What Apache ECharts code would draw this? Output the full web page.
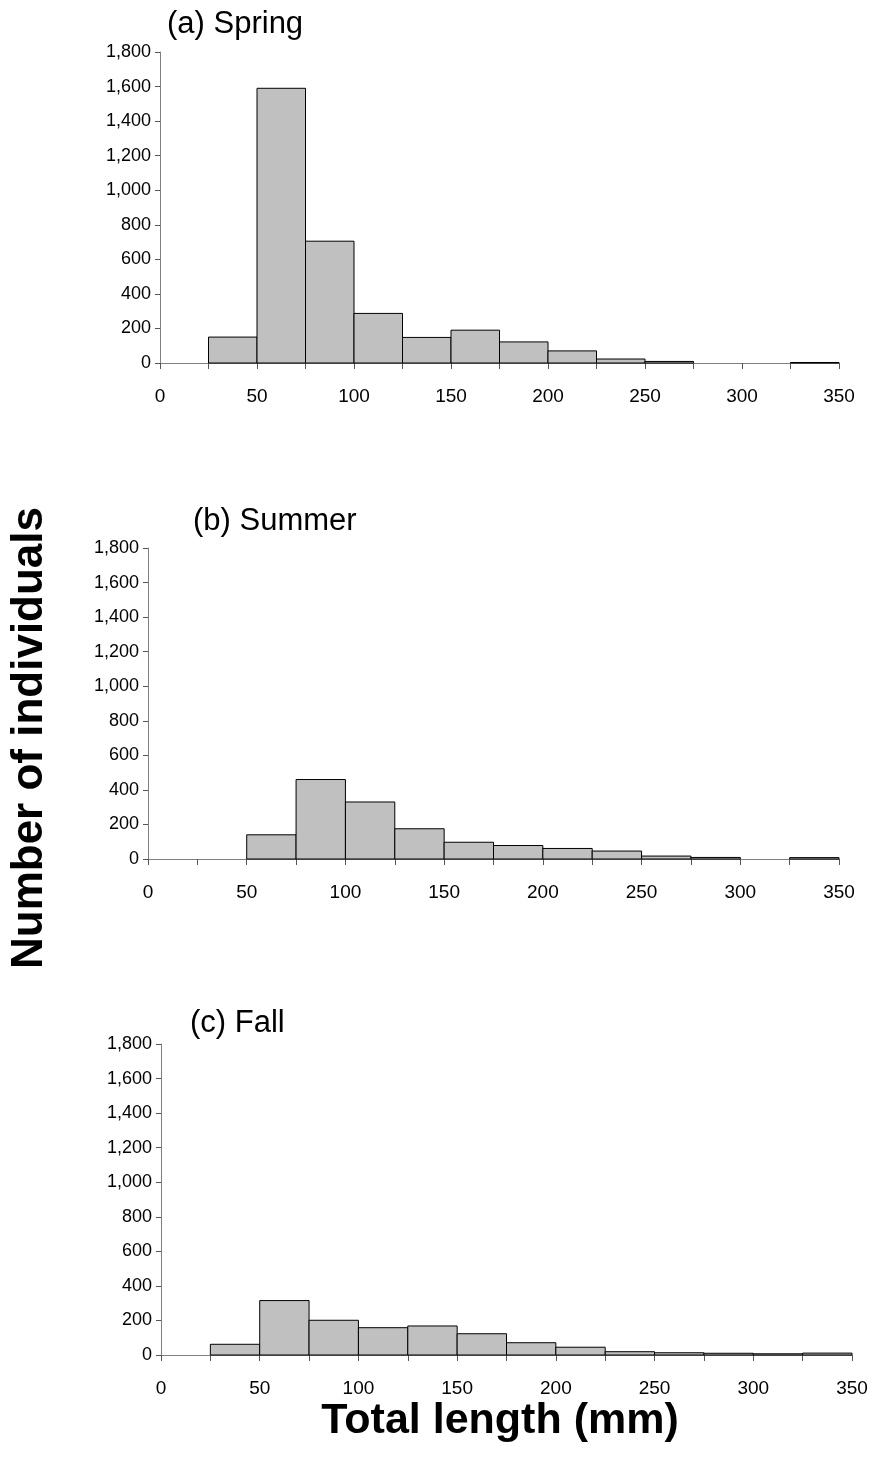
<!DOCTYPE html>
<html>
<head>
<meta charset="utf-8">
<script src="https://cdn.jsdelivr.net/npm/echarts@6/dist/echarts.min.js"></script>
<style>
    html, body { margin: 0; padding: 0; background: #fff; }
    #chart { width: 878px; height: 1469px; }
</style>
</head>
<body>
<div id="chart"></div>
<script>
// length bins (mm)
var binStarts = [0, 25, 50, 75, 100, 125, 150, 175, 200, 225, 250, 275, 300, 325];
var binEnds = [25, 50, 75, 100, 125, 150, 175, 200, 225, 250, 275, 300, 325, 350];

// number of individuals per bin
var springCounts = [0, 150, 1590, 705, 287, 148, 190, 122, 70, 23, 9, 0, 0, 3];
var summerCounts = [0, 0, 140, 460, 330, 175, 97, 78, 61, 46, 17, 9, 0, 8];
var fallCounts = [0, 62, 315, 201, 158, 168, 123, 71, 45, 19, 13, 10, 7, 11];

var panelTitles = ['(a) Spring', '(b) Summer', '(c) Fall'];
var yTicks = [0, 200, 400, 600, 800, 1000, 1200, 1400, 1600, 1800];
var xTicks = [0, 50, 100, 150, 200, 250, 300, 350];

var fontName = '"Liberation Sans", Arial, sans-serif';

function toBins(counts) {
    var out = [];
    for (var i = 0; i < counts.length; i++) {
        out.push([binStarts[i], binEnds[i], counts[i]]);
    }
    return out;
}

function renderBar(params, api) {
    var v = api.value(2);
    if (!v) {
        return null;
    }
    var p0 = api.coord([api.value(0), v]);
    var p1 = api.coord([api.value(1), 0]);
    return {
        type: 'rect',
        shape: { x: p0[0], y: p0[1], width: p1[0] - p0[0], height: p1[1] - p0[1] },
        style: { fill: '#c0c0c0', stroke: '#000', lineWidth: 1 }
    };
}

var grids = [
    { left: 160, right: 39, top: 52, height: 311 },
    { left: 148, right: 39, top: 548, height: 311 },
    { left: 161, right: 26, top: 1044, height: 311 }
];

var xAxes = [], yAxes = [], series = [], titles = [];
var allCounts = [springCounts, summerCounts, fallCounts];
var titleLeft = [162, 188, 185];
var titleTop = [4, 501, 1003];

for (var k = 0; k < 3; k++) {
    xAxes.push({
        type: 'value',
        gridIndex: k,
        min: 0,
        max: 350,
        interval: 25,
        splitLine: { show: false },
        axisLine: { onZero: false, lineStyle: { color: '#808080', width: 1 } },
        axisTick: { length: 6, lineStyle: { color: '#555' } },
        axisLabel: {
            margin: 24,
            color: '#000',
            fontSize: 19,
            fontFamily: fontName,
            formatter: function (v) {
                return xTicks.indexOf(v) >= 0 ? String(v) : '';
            }
        }
    });
    yAxes.push({
        type: 'value',
        gridIndex: k,
        min: 0,
        max: 1800,
        interval: 200,
        splitLine: { show: false },
        axisLine: { show: true, lineStyle: { color: '#808080', width: 1 } },
        axisTick: { show: true, length: 5, lineStyle: { color: '#555' } },
        axisLabel: {
            margin: 9,
            color: '#000',
            fontSize: 18,
            fontFamily: fontName,
            formatter: function (v) {
                return yTicks.indexOf(v) >= 0 ? v.toLocaleString('en-US') : '';
            }
        }
    });
    series.push({
        type: 'custom',
        xAxisIndex: k,
        yAxisIndex: k,
        renderItem: renderBar,
        encode: { x: [0, 1], y: 2 },
        data: toBins(allCounts[k]),
        silent: true
    });
    titles.push({
        text: panelTitles[k],
        left: titleLeft[k],
        top: titleTop[k],
        textStyle: { fontSize: 31, fontWeight: 'normal', color: '#000', fontFamily: fontName }
    });
}

var chart = echarts.init(document.getElementById('chart'));
chart.setOption({
    backgroundColor: '#fff',
    animation: false,
    title: titles,
    grid: grids,
    xAxis: xAxes,
    yAxis: yAxes,
    series: series,
    graphic: [
        {
            type: 'text',
            x: 30,
            y: 738,
            rotation: Math.PI / 2,
            style: {
                text: 'Number of individuals',
                fill: '#000',
                font: 'bold 44px ' + fontName,
                align: 'center',
                verticalAlign: 'middle'
            }
        },
        {
            type: 'text',
            x: 500,
            y: 1421,
            style: {
                text: 'Total length (mm)',
                fill: '#000',
                font: 'bold 43px ' + fontName,
                align: 'center',
                verticalAlign: 'middle'
            }
        }
    ]
});
</script>
</body>
</html>
